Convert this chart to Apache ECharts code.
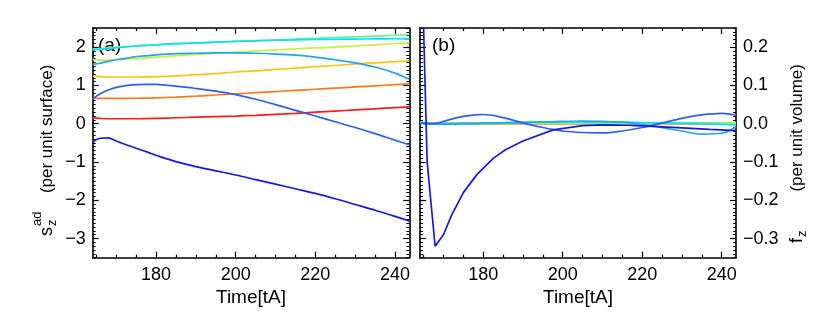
<!DOCTYPE html>
<html>
<head>
<meta charset="utf-8">
<script src="https://cdn.jsdelivr.net/npm/echarts@6/dist/echarts.min.js"></script>
<style>
html,body{margin:0;padding:0;background:#fff;}
#chart{width:830px;height:323px;}
</style>
</head>
<body>
<div id="chart"></div>
<script>
// ---------- DATA ----------
var T = [164.1,166,168,170,172,175,178,180,185,190,195,200,205,210,215,220,225,230,235,240,243.6];

// panel (a): s_z^ad per unit surface
var aDarkBlue  = [-0.47,-0.38,-0.37,-0.45,-0.53,-0.64,-0.75,-0.825,-0.99,-1.12,-1.23,-1.34,-1.46,-1.58,-1.70,-1.82,-1.96,-2.11,-2.26,-2.42,-2.54];
var aBlue      = [0.65,0.78,0.88,0.95,0.99,1.02,1.03,1.025,0.98,0.92,0.85,0.76,0.64,0.5,0.35,0.2,0.05,-0.1,-0.26,-0.43,-0.55];
var aLightBlue = [1.55,1.58,1.63,1.67,1.70,1.75,1.78,1.80,1.83,1.84,1.85,1.85,1.84,1.82,1.79,1.74,1.67,1.59,1.48,1.32,1.16];
var aCyan      = [1.93,1.94,1.96,1.98,2.0,2.03,2.05,2.06,2.09,2.11,2.13,2.15,2.165,2.18,2.19,2.2,2.205,2.21,2.215,2.22,2.21];
var aGreen     = [1.95,1.96,1.98,2.0,2.01,2.03,2.05,2.06,2.09,2.11,2.13,2.15,2.17,2.19,2.21,2.23,2.25,2.27,2.29,2.31,2.33];
var aYellowGrn = [1.68,1.66,1.66,1.67,1.68,1.70,1.72,1.74,1.78,1.81,1.84,1.87,1.90,1.93,1.955,1.98,2.0,2.03,2.06,2.09,2.11];
var aGold      = [1.24,1.23,1.22,1.22,1.22,1.22,1.225,1.23,1.25,1.28,1.31,1.35,1.38,1.42,1.45,1.49,1.52,1.56,1.59,1.62,1.64];
var aOrange    = [0.67,0.66,0.66,0.66,0.66,0.665,0.67,0.675,0.695,0.72,0.75,0.78,0.81,0.84,0.87,0.9,0.93,0.96,0.99,1.02,1.04];
var aRed       = [0.15,0.14,0.13,0.13,0.13,0.13,0.135,0.14,0.155,0.17,0.185,0.2,0.22,0.245,0.27,0.3,0.33,0.36,0.39,0.42,0.44];

// panel (b): f_z per unit volume
var TF = [164.1,165.9,167.9,170,172,175,178.4,182.6,185.6,190,197.6,205,210,216,222.8,230,237,243.6];
var bDarkBlue  = [0.6,-0.1,-0.32,-0.29,-0.24,-0.18,-0.133,-0.09,-0.068,-0.045,-0.016,-0.005,-0.003,-0.004,-0.007,-0.011,-0.015,-0.018];
var bBlue      = [0.003,0.0,0.001,0.006,0.012,0.019,0.023,0.024,0.016,0.002,-0.01,-0.019,-0.023,-0.024,-0.019,-0.01,0.002,0.014,0.023,0.027,0.022];
var bLightBlue = [0.003,0.0,-0.001,-0.001,-0.001,0.0,0.0,0.001,0.002,0.003,0.005,0.006,0.007,0.006,0.004,-0.002,-0.01,-0.019,-0.027,-0.025,-0.008];
var bCyan      = [0.004,0.001,0,0,0,0.001,0.001,0.002,0.003,0.004,0.004,0.005,0.005,0.005,0.004,0.003,0.002,0.001,0.0,-0.002,-0.004];
var bGreen     = [0.003,0.001,0,0,0,0,0,0.001,0.001,0.002,0.002,0.002,0.002,0.002,0.002,0.002,0.002,0.002,0.001,0.001,0.0];
var bYellowGrn = [0.002,0.001,0,0,0,0,0,0,0.001,0.001,0.001,0.001,0.001,0.001,0.001,0.001,0.001,0.001,0.001,0.002,0.003];
var bGold      = [0.002,0.001,0,0,0,0,0,0,0,0,0,0,0,0,0,0,0,0,0,0,0];
var bOrange    = [0.002,0.001,0,0,0,0,0,0,0,0,0,0,0,0,0,0,0,0,0,0,0];
var bRed       = [0.002,0.001,0,0,0,0,0,0,0,0,0,0,0,0,0,0,0,0,0,0,0];

// ticks
var xMajor = [180,200,220,240];
var xMinor = [165,170,175,185,190,195,205,210,215,225,230,235];
var yMajorA = [-3,-2,-1,0,1,2];
var yMajorB = [-0.3,-0.2,-0.1,0.0,0.1,0.2];
var X_MIN = 164.1, X_MAX = 243.6;
var YA_MIN = -3.5, YA_MAX = 2.5;
var YB_MIN = -0.35, YB_MAX = 0.25;

// ---------- BUILD ----------
function range(a, b, step, dec) {
  var out = [];
  var n = Math.round((b - a) / step);
  for (var i = 0; i <= n; i++) out.push(+(a + i * step).toFixed(dec));
  return out;
}
var yMinorA = range(YA_MIN, YA_MAX, 0.1, 2);
var yMinorB = range(YB_MIN, YB_MAX, 0.01, 3);

var FONT = 'Liberation Sans';
var minus = function (s) { return String(s).replace('-', '\u2212'); };

function xAxes(gi) {
  var base = {type:'value', gridIndex:gi, min:X_MIN, max:X_MAX, splitLine:{show:false}};
  return [
    Object.assign({}, base, {position:'bottom',
      axisLine:{show:true, onZero:false, lineStyle:{color:'#000', width:1.6}},
      axisTick:{show:true, inside:true, length:6, customValues:xMajor, lineStyle:{color:'#000', width:1.2}},
      axisLabel:{show:true, customValues:xMajor, fontSize:18, fontFamily:FONT, color:'#000', margin:8},
      name:'Time[tA]', nameLocation:'middle', nameGap:23,
      nameTextStyle:{fontSize:19, fontFamily:FONT, color:'#000'}}),
    Object.assign({}, base, {position:'bottom',
      axisLine:{show:false, onZero:false},
      axisTick:{show:true, inside:true, length:3, customValues:xMinor, lineStyle:{color:'#000', width:1.2}},
      axisLabel:{show:false}}),
    Object.assign({}, base, {position:'top',
      axisLine:{show:true, onZero:false, lineStyle:{color:'#000', width:1.6}},
      axisTick:{show:true, inside:true, length:6, customValues:xMajor, lineStyle:{color:'#000', width:1.2}},
      axisLabel:{show:false}}),
    Object.assign({}, base, {position:'top',
      axisLine:{show:false, onZero:false},
      axisTick:{show:true, inside:true, length:3, customValues:xMinor, lineStyle:{color:'#000', width:1.2}},
      axisLabel:{show:false}})
  ];
}
function yAxes(gi, mn, mx, major, minor, labelSide, fmt, title, gap, shift) {
  var base = {type:'value', gridIndex:gi, min:mn, max:mx, splitLine:{show:false}};
  var res = [];
  ['left','right'].forEach(function (side) {
    var ax = Object.assign({}, base, {position:side,
      axisLine:{show:true, onZero:false, lineStyle:{color:'#000', width:1.6}},
      axisTick:{show:true, inside:true, length:6, customValues:major, lineStyle:{color:'#000', width:1.2}},
      axisLabel:{show:side === labelSide, customValues:major, fontSize:18, fontFamily:FONT, color:'#000', margin:7, formatter:fmt}});
    if (side === labelSide) {
      ax.name = title; ax.nameLocation = 'middle'; ax.nameRotate = 90; ax.nameGap = gap;
      ax.nameTextStyle = {fontSize:17, fontFamily:FONT, color:'#000', padding:[0,0,0,shift]};
    }
    res.push(ax);
    res.push(Object.assign({}, base, {position:side,
      axisLine:{show:false, onZero:false},
      axisTick:{show:true, inside:true, length:3, customValues:minor, lineStyle:{color:'#000', width:1}},
      axisLabel:{show:false}}));
  });
  return res;
}

function pairs(xs, ys) { return xs.map(function (x, i) { return [x, ys[i]]; }); }
function line(xi, yi, xs, ys, color, smooth) {
  return {type:'line', xAxisIndex:xi, yAxisIndex:yi, data:pairs(xs, ys), showSymbol:false,
    smooth: smooth === undefined ? 0.35 : smooth, clip:true, animation:false,
    lineStyle:{color:color, width:1.7}, itemStyle:{color:color}};
}

var C = {
  darkBlue:'#1818e6', blue:'#2c60f4', lightBlue:'#20a6f2', cyan:'#08e2ee',
  green:'#6cf29a', yellowGrn:'#c6f23a', gold:'#ffc20c', orange:'#ff7818', red:'#ff1c14'
};

var series = [
  line(0,0,T,aRed,C.red), line(0,0,T,aOrange,C.orange), line(0,0,T,aGold,C.gold),
  line(0,0,T,aYellowGrn,C.yellowGrn), line(0,0,T,aGreen,C.green), line(0,0,T,aCyan,C.cyan),
  line(0,0,T,aLightBlue,C.lightBlue), line(0,0,T,aBlue,C.blue), line(0,0,T,aDarkBlue,C.darkBlue),

  line(4,4,T,bRed,C.red), line(4,4,T,bOrange,C.orange), line(4,4,T,bGold,C.gold),
  line(4,4,T,bYellowGrn,C.yellowGrn), line(4,4,T,bGreen,C.green), line(4,4,T,bCyan,C.cyan),
  line(4,4,T,bLightBlue,C.lightBlue), line(4,4,T,bBlue,C.blue), line(4,4,TF,bDarkBlue,C.darkBlue,false)
];

function rotTitle(gx, gy, parts) {
  return {type:'group', x:gx, y:gy, rotation:Math.PI/2, silent:true,
    children: parts.map(function (p) {
      return {type:'text', x:p[1], y:p[2], style:{text:p[0], fontSize:p[3], fontFamily:FONT, fill:'#000', align:'left', verticalAlign:'middle'}};
    })};
}

var option = {
  backgroundColor:'#fff',
  animation:false,
  textStyle:{fontFamily:FONT},
  grid:[
    {left:92.7, right:420.7, top:28, bottom:65.3, containLabel:false},
    {left:420, right:94, top:28, bottom:65.3, containLabel:false}
  ],
  xAxis: xAxes(0).concat(xAxes(1)),
  yAxis: yAxes(0, YA_MIN, YA_MAX, yMajorA, yMinorA, 'left', function (v) { return minus(Math.round(v)); }, '(per unit surface)', 37, 28)
    .concat(yAxes(1, YB_MIN, YB_MAX, yMajorB, yMinorB, 'right', function (v) { return minus(v.toFixed(1)); }, '(per unit volume)', 53, 30)),
  series: series,
  graphic:[
    {type:'text', left:98, top:36, style:{text:'(a)', fontSize:19, fontFamily:FONT, fill:'#000'}},
    {type:'text', left:432, top:36, style:{text:'(b)', fontSize:19, fontFamily:FONT, fill:'#000'}},
    rotTitle(47, 236, [['s',0,0,18],['z',10,5,13],['ad',10,-10,13]]),
    rotTitle(797, 243, [['f',0,0,18],['z',6,5,13]])
  ]
};

var chart = echarts.init(document.getElementById('chart'), null, {renderer:'canvas'});
chart.setOption(option);
</script>
</body>
</html>
